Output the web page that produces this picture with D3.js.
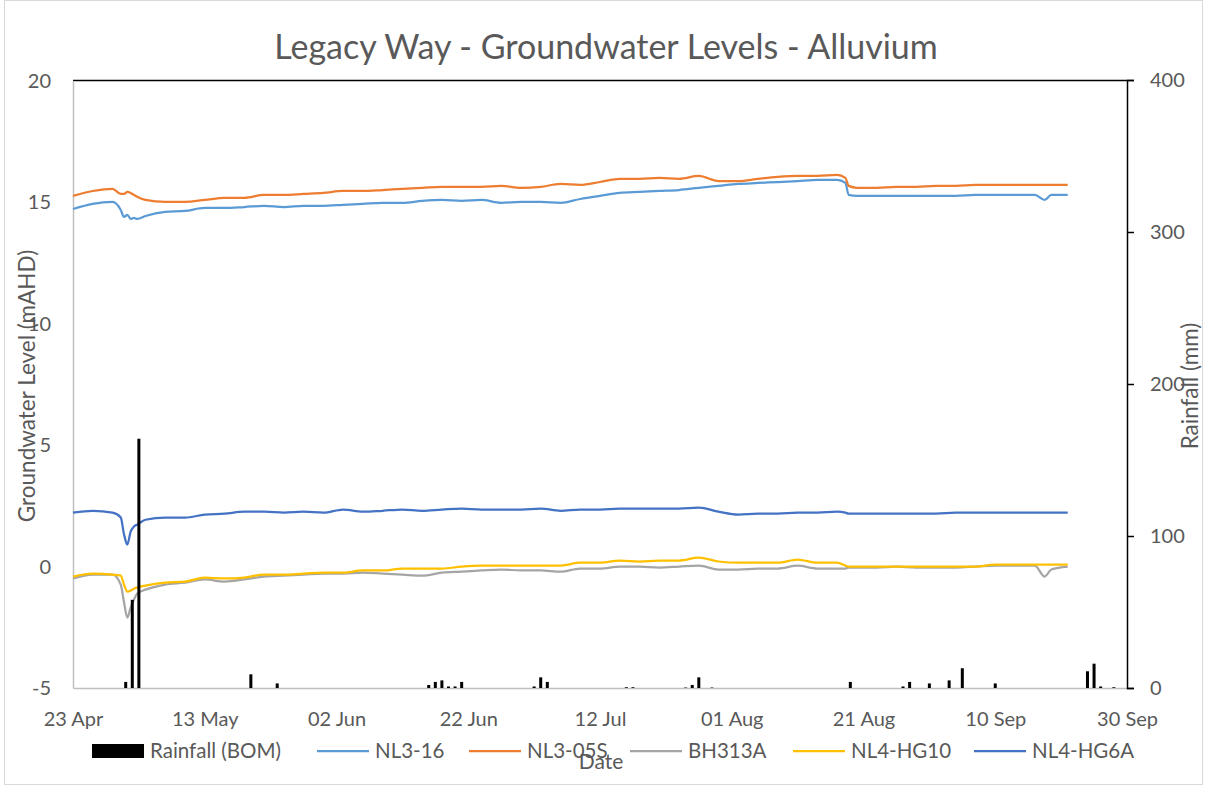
<!DOCTYPE html>
<html><head><meta charset="utf-8">
<script src="https://cdn.jsdelivr.net/npm/d3@7/dist/d3.min.js"></script>
<style>
html,body{margin:0;padding:0;background:#fff;}
svg text{font-family:Lato,"Open Sans",sans-serif;fill:#595959;}
</style></head>
<body><svg id="chart" width="1208" height="789"></svg>
<script>
// ---------- DATA ----------
const chartTitle = "Legacy Way - Groundwater Levels - Alluvium";
const xTickLabels = ["23 Apr","13 May","02 Jun","22 Jun","12 Jul","01 Aug","21 Aug","10 Sep","30 Sep"];
const leftTicks = [-5,0,5,10,15,20];
const rightTicks = [0,100,200,300,400];
const seriesNames = ["NL3-16","NL3-05S","BH313A","NL4-HG10","NL4-HG6A"];
const seriesColors = ["#5B9BD5","#ED7D31","#A5A5A5","#FFC000","#4472C4"];

const sampleDates = ["04-23 00","04-26 00","04-29 00","04-30 06","04-30 18","05-01 06","05-01 18","05-02 06","05-02 18","05-04 00",
"05-07 00","05-10 00","05-13 00","05-16 00","05-19 00","05-22 00","05-25 00","05-28 00","05-31 00","06-03 00",
"06-06 00","06-09 00","06-12 00","06-15 00","06-18 00","06-21 00","06-24 00","06-27 00","06-30 00","07-03 00",
"07-06 00","07-09 00","07-12 00","07-15 00","07-18 00","07-21 00","07-24 00","07-27 00","07-30 00","08-02 00",
"08-05 00","08-08 00","08-11 00","08-14 00","08-17 00","08-18 06","08-18 18","08-20 00","08-23 00","08-26 00",
"08-29 00","09-01 00","09-04 00","09-07 00","09-10 00","09-13 00","09-16 00","09-17 12","09-18 12","09-21 00"];

const nl316 = [14.73,14.94,15.02,14.69,14.40,14.49,14.32,14.36,14.32,14.44,
14.61,14.65,14.77,14.77,14.81,14.86,14.81,14.86,14.86,14.90,
14.94,14.98,14.98,15.06,15.10,15.06,15.10,14.98,15.02,15.02,
14.98,15.14,15.27,15.39,15.43,15.47,15.51,15.60,15.68,15.76,
15.80,15.84,15.88,15.93,15.93,15.80,15.31,15.27,15.27,15.27,
15.27,15.27,15.27,15.31,15.31,15.31,15.31,15.10,15.31,15.31];

const nl305s = [15.27,15.47,15.56,15.35,15.35,15.43,15.39,15.31,15.23,15.10,
15.02,15.02,15.10,15.19,15.19,15.31,15.31,15.35,15.39,15.47,
15.47,15.51,15.56,15.60,15.64,15.64,15.64,15.68,15.60,15.64,
15.76,15.72,15.84,15.97,15.97,16.01,15.97,16.09,15.88,15.88,
15.97,16.05,16.09,16.09,16.13,16.01,15.68,15.60,15.60,15.64,
15.64,15.68,15.68,15.72,15.72,15.72,15.72,15.72,15.72,15.72];

const bh313a = [-0.49,-0.33,-0.33,-0.74,-1.48,-2.10,-1.69,-1.36,-1.11,-0.95,
-0.74,-0.66,-0.53,-0.62,-0.53,-0.41,-0.37,-0.33,-0.29,-0.29,
-0.25,-0.29,-0.33,-0.37,-0.25,-0.21,-0.16,-0.12,-0.16,-0.16,
-0.21,-0.08,-0.08,0.00,0.00,-0.04,0.00,0.04,-0.12,-0.12,
-0.08,-0.08,0.04,-0.08,-0.08,-0.08,-0.04,-0.04,-0.04,0.00,
-0.04,-0.04,-0.04,0.00,0.04,0.04,0.04,-0.41,-0.12,0.00];

const nl4hg10 = [-0.41,-0.29,-0.33,-0.37,-0.74,-1.03,-0.99,-0.91,-0.86,-0.78,
-0.66,-0.62,-0.45,-0.49,-0.45,-0.33,-0.33,-0.29,-0.25,-0.25,
-0.16,-0.16,-0.08,-0.08,-0.08,0.00,0.04,0.04,0.04,0.04,
0.04,0.16,0.16,0.25,0.21,0.25,0.25,0.37,0.21,0.16,
0.16,0.16,0.29,0.16,0.16,0.04,0.00,0.00,0.00,0.00,
0.00,0.00,0.00,0.00,0.08,0.08,0.08,0.08,0.08,0.08];

const nl4hg6a = [2.22,2.30,2.22,2.02,1.32,0.91,1.44,1.65,1.73,1.93,
2.02,2.02,2.14,2.18,2.26,2.26,2.22,2.26,2.22,2.35,
2.26,2.30,2.35,2.30,2.35,2.39,2.35,2.35,2.35,2.39,
2.30,2.35,2.35,2.39,2.39,2.39,2.39,2.43,2.26,2.14,
2.18,2.18,2.22,2.22,2.26,2.22,2.18,2.18,2.18,2.18,
2.18,2.18,2.22,2.22,2.22,2.22,2.22,2.22,2.22,2.22];

const rainDates = ["05-01","05-02","05-03","05-20","05-24","06-16","06-17","06-18","06-19","06-20","06-21",
"07-02","07-03","07-04","07-16","07-17","07-25","07-26","07-27","07-29","08-19","08-27","08-28","08-31",
"09-03","09-05","09-10","09-24","09-25","09-26","09-28"];
const rainMM = [4,58,164,9,3,2,4,5,1,1,4,
1,7,4,0.5,0.5,0.3,2,7,0.3,4,1,4,3,
5,13,3,11,16,1,0.5];

// ---------- CHART ----------
const svg = d3.select("#chart");
const year = "2014-";
const parseT = d3.timeParse("%Y-%m-%d %H");
const parseD = d3.timeParse("%Y-%m-%d");
const parseTick = d3.timeParse("%d %b %Y");

const x = d3.scaleTime().domain([parseTick("23 Apr 2014"), parseTick("30 Sep 2014")]).range([73,1127]);
const yL = d3.scaleLinear().domain([-5,20]).range([688,81]);
const yR = d3.scaleLinear().domain([0,400]).range([688,80]);

// outer border
svg.append("rect").attr("x",4.5).attr("y",0.5).attr("width",1198).attr("height",784)
  .attr("fill","none").attr("stroke","#d9d9d9");

// title
svg.append("text").attr("x",606).attr("y",59).attr("text-anchor","middle")
  .style("font-size","34px").text(chartTitle);

// top black line
svg.append("line").attr("x1",73).attr("x2",1127).attr("y1",80.5).attr("y2",80.5)
  .attr("stroke","#000").attr("stroke-width",1.5);

// bottom axis
const tickDates = xTickLabels.map(l => parseTick(l + " 2014"));
const xAxis = d3.axisBottom(x).tickValues(tickDates).tickSize(0).tickPadding(24)
  .tickFormat((d,i) => xTickLabels[i]);
const gx = svg.append("g").attr("transform","translate(0,688)").call(xAxis);
gx.select(".domain").attr("stroke","#bfbfbf").attr("stroke-width",1.5);
gx.selectAll("text").style("font-size","20px").attr("fill","#595959");

// left axis
const gl = svg.append("g").attr("transform","translate(73,0)")
  .call(d3.axisLeft(yL).tickValues(leftTicks).tickSize(0).tickPadding(22).tickFormat(d => String(d)));
gl.select(".domain").attr("stroke","#bfbfbf").attr("stroke-width",1.5);
gl.selectAll("text").style("font-size","20px").attr("fill","#595959");

// right axis
const gr = svg.append("g").attr("transform","translate(1127,0)")
  .call(d3.axisRight(yR).tickValues(rightTicks).tickSize(7).tickPadding(16).tickFormat(d => String(d)));
gr.select(".domain").attr("stroke","#000").attr("stroke-width",1.5);
gr.selectAll("line").attr("stroke","#000").attr("stroke-width",1.5);
gr.selectAll("text").style("font-size","20px").attr("fill","#595959");

// axis titles
svg.append("text").attr("transform","translate(35,386) rotate(-90)").attr("text-anchor","middle")
  .style("font-size","22.5px").text("Groundwater Level (mAHD)");
svg.append("text").attr("transform","translate(1198,386) rotate(-90)").attr("text-anchor","middle")
  .style("font-size","22.5px").text("Rainfall (mm)");

// series lines
const seriesValues = [nl316, nl305s, bh313a, nl4hg10, nl4hg6a];
const line = d3.line().x(d => x(d.t)).y(d => yL(d.v)).curve(d3.curveMonotoneX);
[0,1,2,3,4].forEach(si => {
  const pts = sampleDates.map((s,i) => ({t: parseT(year + s), v: seriesValues[si][i]}));
  svg.append("path").datum(pts).attr("d", line).attr("fill","none")
    .attr("stroke", seriesColors[si]).attr("stroke-width",2.25).attr("stroke-linejoin","round");
});

// rainfall bars
const rain = rainDates.map((s,i) => ({t: parseD(year + s), v: rainMM[i]}));
svg.append("g").selectAll("rect").data(rain).join("rect")
  .attr("x", d => x(d.t) - 1.5).attr("width", 3)
  .attr("y", d => yR(d.v)).attr("height", d => yR(0) - yR(d.v))
  .attr("fill","#000");

// legend
const lg = svg.append("g");
const ly = 751;
lg.append("rect").attr("x",92).attr("y",ly-7).attr("width",52).attr("height",14).attr("fill","#000");
lg.append("text").attr("x",150).attr("y",ly).attr("dy","0.35em").style("font-size","20.5px").text("Rainfall (BOM)");
const legendX = [317,469,630,793,974];
seriesNames.forEach((n,i) => {
  lg.append("line").attr("x1",legendX[i]).attr("x2",legendX[i]+52).attr("y1",ly).attr("y2",ly)
    .attr("stroke",seriesColors[i]).attr("stroke-width",2.25);
  lg.append("text").attr("x",legendX[i]+58).attr("y",ly).attr("dy","0.35em").style("font-size","20.5px").text(n);
});

// x axis title (overlaps legend as in original)
svg.append("text").attr("x",601).attr("y",762).attr("dy","0.35em").attr("text-anchor","middle")
  .style("font-size","21px").text("Date");
</script></body></html>
